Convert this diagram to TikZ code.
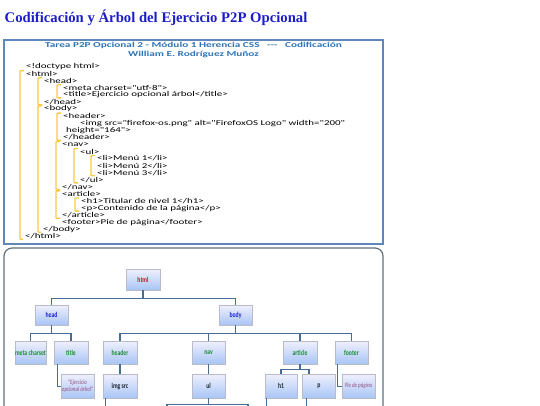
\documentclass[tikz,border=0pt]{standalone}
\usepackage{fontspec}
\usepackage{xcolor}
\usepackage{tikz}
\usetikzlibrary{shadows}
\setmainfont{Liberation Serif}
\newfontfamily\codefont[FakeStretch=1.48]{Carlito}
\newfontfamily\treefont[FakeStretch=0.76]{Carlito}
\definecolor{titleblue}{RGB}{28,28,200}
\definecolor{codeblue}{RGB}{46,116,181}
\definecolor{codeframe}{RGB}{95,135,185}
\definecolor{treeframe}{RGB}{95,110,125}
\definecolor{brackgold}{RGB}{247,199,72}
\definecolor{linkblue}{RGB}{72,108,146}
\definecolor{boxtop}{RGB}{240,240,253}
\definecolor{boxbot}{RGB}{168,197,245}
\definecolor{boxline}{RGB}{185,188,200}
\definecolor{tagred}{RGB}{190,20,30}
\definecolor{tagblue}{RGB}{30,30,215}
\definecolor{taggreen}{RGB}{25,140,50}
\definecolor{tagdark}{RGB}{25,35,45}
\definecolor{leafpink}{RGB}{150,80,130}

\begin{document}
\begin{tikzpicture}[
  x=1pt, y=-1pt,
  code/.style={anchor=west, inner sep=0pt, font=\codefont\fontsize{7.4}{7.5}\selectfont},
  codehead/.style={inner sep=0pt, text=codeblue, font=\codefont\bfseries\fontsize{7.6}{7.7}\selectfont},
  brk/.style={draw=brackgold, line width=1.4pt, rounded corners=0.8pt},
  tbox/.style={draw=boxline, line width=0.5pt, top color=boxtop, bottom color=boxbot,
    minimum width=33pt, minimum height=23pt, inner sep=0pt,
    font=\treefont\bfseries\fontsize{7.5}{8}\selectfont,
    drop shadow={shadow xshift=0.8pt, shadow yshift=-0.8pt, opacity=0.3}},
  leaf/.style={tbox, font=\treefont\itshape\fontsize{6.6}{7}\selectfont, text=leafpink, align=center},
  link/.style={draw=linkblue, line width=1.4pt},
  hang/.style={draw=linkblue, line width=0.9pt},
]
  \useasboundingbox (0,0) rectangle (540,405);
  \clip (0,0) rectangle (540,405);
  \node[anchor=west, inner sep=0pt, font=\bfseries\fontsize{14.7}{16}\selectfont, text=titleblue]
    (heading) at (4.5,18) {Codificación y Árbol del Ejercicio P2P Opcional};

  \draw[draw=codeframe, line width=1.2pt] (4,40) rectangle (383,244);
  \node[codehead] (task) at (193.5,45)
    {Tarea P2P Opcional 2 - Módulo 1 Herencia CSS\quad-\kern0pt-\kern0pt-\quad Codificación};
  \node[codehead] (author) at (193.5,54.5) {William E. Rodríguez Muñoz};
  \node[code] (l1) at (26,66.5) {<!doctype html>};
  \node[code] (l2) at (26,73.6) {<html>};
  \node[code] (l3) at (44,80.7) {<head>};
  \node[code] (l4) at (63,87.7) {<meta charset="utf-8">};
  \node[code] (l5) at (63,94.8) {<title>Ejercicio opcional árbol</title>};
  \node[code] (l6) at (44,101.9) {</head>};
  \node[code] (l7) at (44,109.0) {<body>};
  \node[code] (l8) at (63,116.1) {<header>};
  \node[code] (l9) at (80,123.1) {<img src="firefox-os.png" alt="FirefoxOS Logo" width="200"};
  \node[code] (l10) at (66,130.2) {height="164">};
  \node[code] (l11) at (63,137.3) {</header>};
  \node[code] (l12) at (62,144.4) {<nav>};
  \node[code] (l13) at (80,151.5) {<ul>};
  \node[code] (l14) at (97,158.5) {<li>Menú 1</li>};
  \node[code] (l15) at (97,165.6) {<li>Menú 2</li>};
  \node[code] (l16) at (97,172.7) {<li>Menú 3</li>};
  \node[code] (l17) at (80,179.8) {</ul>};
  \node[code] (l18) at (62,186.9) {</nav>};
  \node[code] (l19) at (62,193.9) {<article>};
  \node[code] (l20) at (81,201.0) {<h1>Titular de nivel 1</h1>};
  \node[code] (l21) at (81,208.1) {<p>Contenido de la página</p>};
  \node[code] (l22) at (62,215.2) {</article>};
  \node[code] (l23) at (62,222.3) {<footer>Pie de página</footer>};
  \node[code] (l24) at (43,229.3) {</body>};
  \node[code] (l25) at (25,236.4) {</html>};

  \draw[brk] ([xshift=-2pt,yshift=3pt]l2.west) -- ([xshift=-6pt,yshift=3pt]l2.west) |- ([xshift=-2pt,yshift=-3pt]l25.west);
  \draw[brk] ([xshift=-2pt,yshift=3pt]l3.west) -- ([xshift=-6pt,yshift=3pt]l3.west) |- ([xshift=-2pt,yshift=-3pt]l6.west);
  \draw[brk] ([xshift=-2pt,yshift=3pt]l4.west) -- ([xshift=-6pt,yshift=3pt]l4.west) |- ([xshift=-2pt,yshift=-3pt]l5.west);
  \draw[brk] ([xshift=-2pt,yshift=3pt]l7.west) -- ([xshift=-6pt,yshift=3pt]l7.west) |- ([xshift=-2pt,yshift=-3pt]l24.west);
  \draw[brk] ([xshift=-2pt,yshift=3pt]l8.west) -- ([xshift=-6pt,yshift=3pt]l8.west) |- ([xshift=-2pt,yshift=-3pt]l11.west);
  \draw[brk] ([xshift=-2pt,yshift=3pt]l12.west) -- ([xshift=-6pt,yshift=3pt]l12.west) |- ([xshift=-2pt,yshift=-3pt]l18.west);
  \draw[brk] ([xshift=-2pt,yshift=3pt]l13.west) -- ([xshift=-6pt,yshift=3pt]l13.west) |- ([xshift=-2pt,yshift=-3pt]l17.west);
  \draw[brk] ([xshift=-2pt,yshift=3pt]l14.west) -- ([xshift=-6pt,yshift=3pt]l14.west) |- ([xshift=-2pt,yshift=-3pt]l16.west);
  \draw[brk] ([xshift=-2pt,yshift=3pt]l19.west) -- ([xshift=-6pt,yshift=3pt]l19.west) |- ([xshift=-2pt,yshift=-3pt]l22.west);
  \draw[brk] ([xshift=-2pt,yshift=3pt]l20.west) -- ([xshift=-6pt,yshift=3pt]l20.west) |- ([xshift=-2pt,yshift=-3pt]l21.west);

  \draw[draw=treeframe, line width=1.2pt, rounded corners=8pt] (4,248) rectangle (383,440);
  \node[tbox, minimum width=34pt, minimum height=21pt, text=tagred] (html) at (143,279.5) {html};
  \node[tbox, minimum height=20pt, text=tagblue] (head) at (51.5,315) {head};
  \node[tbox, minimum height=20pt, text=tagblue] (body) at (235.5,315) {body};
  \node[tbox, minimum width=31pt, text=taggreen] (meta) at (30.5,352.5) {meta charset};
  \node[tbox, minimum width=34pt, text=taggreen] (tagtitle) at (71,352.5) {title};
  \node[tbox, minimum width=34pt, text=taggreen] (header) at (120,352.5) {header};
  \node[tbox, text=taggreen] (nav) at (208.5,352.5) {nav};
  \node[tbox, minimum width=34pt, text=taggreen] (article) at (300,352.5) {article};
  \node[tbox, text=taggreen] (footer) at (351.5,352.5) {footer};
  \node[leaf, minimum height=24pt] (titletext) at (77.5,386) {"Ejercicio\\opcional árbol"};
  \node[tbox, minimum width=34pt, minimum height=24pt, text=tagdark] (imgsrc) at (120,386) {img src};
  \node[tbox, minimum height=24pt, text=tagdark] (ul) at (208.5,386) {ul};
  \node[tbox, minimum width=32pt, minimum height=24pt, text=tagdark] (h1) at (281,386) {h1};
  \node[tbox, minimum height=24pt, text=tagdark] (p) at (319,386) {p};
  \node[leaf, minimum height=24pt] (footertext) at (358.5,386) {Pie de página};

  \coordinate (imgout) at ([xshift=3pt,yshift=-20pt]imgsrc.south west);
  \coordinate (ulleft) at (167,420);
  \coordinate (ulright) at (248,420);
  \coordinate (h1out) at ([xshift=2pt,yshift=-20pt]h1.south west);
  \coordinate (pout) at ([xshift=4pt,yshift=-20pt]p.south west);

  \draw[link] (html.south) -- ++(0,8.5) -| (head.north);
  \draw[link] (html.south) -- ++(0,8.5) -| (body.north);
  \draw[link] (head.south) -- ++(0,8) -| (meta.north);
  \draw[link] (head.south) -- ++(0,8) -| (tagtitle.north);
  \draw[link] (body.south) -- ++(0,8) -| (header.north);
  \draw[link] (body.south) -- ++(0,8) -| (nav.north);
  \draw[link] (body.south) -- ++(0,8) -| (article.north);
  \draw[link] (body.south) -- ++(0,8) -| (footer.north);
  \draw[link] (header.south) -- (imgsrc.north);
  \draw[link] (nav.south) -- (ul.north);
  \draw[link] (article.south) -- ++(0,5) -| (h1.north);
  \draw[link] (article.south) -- ++(0,5) -| ([xshift=-10pt]p.north);
  \draw[hang] ([xshift=4pt]tagtitle.south west) |- (titletext.west);
  \draw[hang] ([xshift=3pt]footer.south west) |- (footertext.west);
  \draw[hang] ([xshift=3pt]imgsrc.south west) -- (imgout);
  \draw[link] (ul.south) -- ++(0,6) -| (ulleft);
  \draw[link] (ul.south) -- ++(0,6) -| (ulright);
  \draw[hang] ([xshift=2pt]h1.south west) -- (h1out);
  \draw[hang] ([xshift=4pt]p.south west) -- (pout);
\end{tikzpicture}
\end{document}
